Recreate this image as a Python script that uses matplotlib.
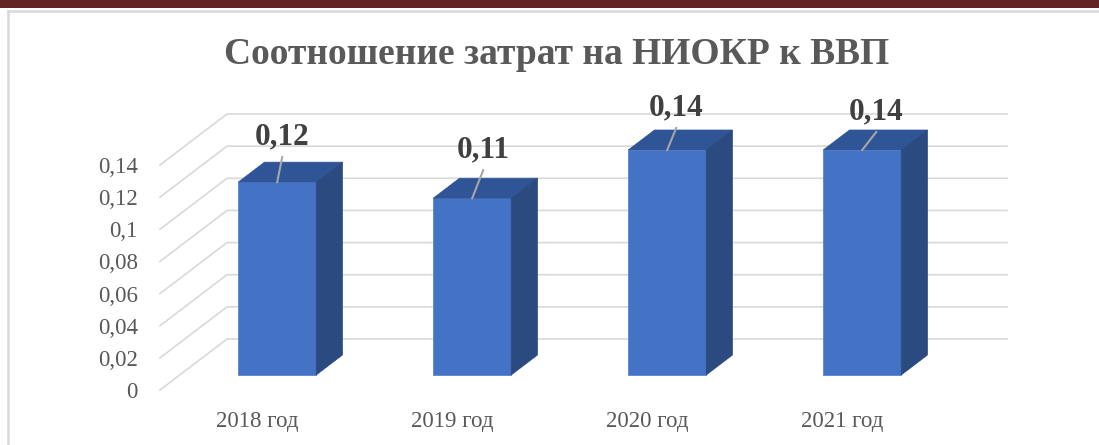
import matplotlib.pyplot as plt
from matplotlib.patches import Polygon, Rectangle
from matplotlib.lines import Line2D

years = ["2018 год", "2019 год", "2020 год", "2021 год"]
values = [0.12, 0.11, 0.14, 0.14]
value_labels = ["0,12", "0,11", "0,14", "0,14"]
yticks = [0, 0.02, 0.04, 0.06, 0.08, 0.10, 0.12, 0.14]
ytick_labels = ["0", "0,02", "0,04", "0,06", "0,08", "0,1", "0,12", "0,14"]

W, H = 1099, 445
fig = plt.figure(figsize=(W / 100, H / 100), dpi=100)
plt.rcParams['font.family'] = ['Liberation Serif', 'DejaVu Serif']

# front plane of the pseudo-3d box, in pixels
left_px, right_px, bottom_px, top_px = 160, 940, 390, 165
ax = fig.add_axes([left_px / W, 1 - bottom_px / H,
                   (right_px - left_px) / W, (bottom_px - top_px) / H])
ax.set_xlim(-0.5, len(years) - 0.5)
ax.set_ylim(0, 0.14)
for s in ax.spines.values():
    s.set_visible(False)

px_x = (len(years)) / (right_px - left_px)     # data units per pixel
px_y = 0.14 / (bottom_px - top_px)
DX, DY = 67 * px_x, 51 * px_y                  # depth of the box
f0, f1 = 15 / 51, 35 / 51                      # bar front/back depth fraction
half_w = 39 * px_x

grid_c = "#d9d9d9"
x0, x1 = -0.5, len(years) - 0.5
for v in yticks:
    ax.plot([x0, x0 + DX, x1 + DX], [v, v + DY, v + DY], color=grid_c,
            lw=1.2, clip_on=False, zorder=1)

front_c, top_c, side_c = "#4472C4", "#2F5597", "#2A4A80"
label_nudge = [(5, 45), (11, 48), (9, 42), (14, 38)]  # label offset from bar top, px
for i, v in enumerate(values):
    ox, oy = f0 * DX, f0 * DY
    bx, by = (f1 - f0) * DX, (f1 - f0) * DY
    xl, xr = i - half_w + ox, i + half_w + ox
    yb, yt = oy, v + oy
    front = Polygon([(xl, yb), (xr, yb), (xr, yt), (xl, yt)], closed=True,
                    facecolor=front_c, edgecolor="#5a86d0", lw=0.6, zorder=3, clip_on=False)
    top = Polygon([(xl, yt), (xr, yt), (xr + bx, yt + by), (xl + bx, yt + by)], closed=True,
                  facecolor=top_c, edgecolor=top_c, lw=0.5, zorder=3, clip_on=False)
    side = Polygon([(xr, yb), (xr + bx, yb + by), (xr + bx, yt + by), (xr, yt)], closed=True,
                   facecolor=side_c, edgecolor=side_c, lw=0.5, zorder=3, clip_on=False)
    for p in (front, top, side):
        ax.add_patch(p)
    cx = i + ox
    nx, ny = label_nudge[i]
    lx, ly = cx + nx * px_x, yt + ny * px_y
    ax.plot([lx, cx], [ly - 20 * px_y, yt], color="#a6a6a6", lw=1.5,
            clip_on=False, zorder=4)
    ax.text(lx, ly, value_labels[i], ha="center", va="center", fontsize=22.5,
            fontweight="bold", color="#404040", zorder=5)

ax.set_yticks(yticks)
ax.set_yticklabels(ytick_labels)
ax.set_xticks(range(len(years)))
ax.set_xticklabels(years)
ax.tick_params(axis="y", length=0, pad=16, labelsize=16.5, labelcolor="#595959")
ax.tick_params(axis="x", length=0, pad=15, labelsize=16.5, labelcolor="#595959")

fig.text(557 / W, 1 - 55 / H, "Соотношение затрат на НИОКР к ВВП", ha="center",
         va="center", fontsize=27, fontweight="bold", color="#595959")

# outer decorations: red band and chart frame
fig.patches.append(Rectangle((0, 1 - 8 / H), 1, 8 / H, transform=fig.transFigure,
                             facecolor="#632523", edgecolor="none"))
fig.add_artist(Line2D([8 / W, 8 / W], [0, 1 - 11 / H], color=grid_c, lw=1.8,
                      transform=fig.transFigure))
fig.add_artist(Line2D([8 / W, 1], [1 - 11 / H, 1 - 11 / H], color=grid_c, lw=1.8,
                      transform=fig.transFigure))

fig.savefig("out.png", dpi=100)
